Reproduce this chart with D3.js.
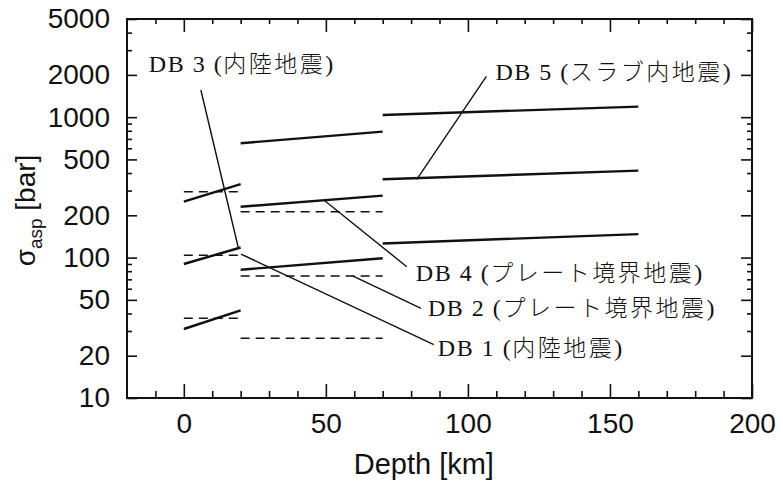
<!DOCTYPE html>
<html>
<head>
<meta charset="utf-8">
<script src="https://cdn.jsdelivr.net/npm/d3@7"></script>
<style>
  body { margin: 0; background: #fff; }
  svg text { fill: #111; }
</style>
</head>
<body>
<div id="chart"></div>
<script>
// depth ranges (km) of the three groups
const shallowDepth = [0, 20];
const midDepth = [20, 70];
const deepDepth = [70, 160];

// sigma_asp [bar] at start / end of each solid line
const shallowSolid = [[250, 334], [90, 118], [31, 42]];
const midSolid = [[652, 789], [230, 276], [82, 99]];
const deepSolid = [[1037, 1188], [361, 416], [126, 147]];

// constant (dashed) levels
const shallowDashed = [294, 104, 37];
const midDashed = [212, 74, 26.6];

// tick values
const xMajor = [0, 50, 100, 150, 200];
const xMinor = d3.range(-10, 200, 10).filter(d => d % 50 !== 0);
const yMajor = [10, 20, 50, 100, 200, 500, 1000, 2000, 5000];
const yMinor = [30, 40, 60, 70, 80, 90, 300, 400, 600, 700, 800, 900, 3000, 4000];

// annotation labels and their leader lines, [depth, sigma] from -> to
const labelNames = ["DB 3 (内陸地震)", "DB 5 (スラブ内地震)", "DB 4 (プレート境界地震)", "DB 2 (プレート境界地震)", "DB 1 (内陸地震)"];
const leaderFrom = [[19.2, 117], [82, 361], [49.4, 256], [59.4, 74], [20.1, 106]];
const leaderTo = [[6, 1560], [106.5, 1950], [78.5, 86], [83.5, 43.5], [88, 24]];

const config = {
  width: 783, height: 488,
  margin: { top: 19, right: 31, bottom: 90, left: 127 }
};
const width = config.width - config.margin.left - config.margin.right;
const height = config.height - config.margin.top - config.margin.bottom;

const svg = d3.select("#chart").append("svg")
  .attr("width", config.width)
  .attr("height", config.height);

const g = svg.append("g")
  .attr("transform", "translate(" + config.margin.left + "," + config.margin.top + ")");

const x = d3.scaleLinear().domain([-20, 200]).range([0, width]);
const y = d3.scaleLog().domain([10, 5000]).range([height, 0]);

const axisFont = "'Liberation Sans', Arial, sans-serif";

// axes: ticks point inward on all four sides
function styleAxis(sel) {
  sel.select(".domain").remove();
  sel.selectAll(".tick line").attr("stroke", "#111").attr("stroke-width", 1.6);
  sel.selectAll("text")
    .style("font-family", axisFont)
    .style("font-size", "28px")
    .attr("fill", "#111");
}

g.append("g").attr("transform", "translate(0," + height + ")")
  .call(d3.axisBottom(x).tickValues(xMajor).tickSize(-14).tickPadding(15).tickFormat(d3.format("d")))
  .call(styleAxis);
g.append("g").attr("transform", "translate(0," + height + ")")
  .call(d3.axisBottom(x).tickValues(xMinor).tickSize(-7).tickFormat(""))
  .call(styleAxis);
g.append("g")
  .call(d3.axisTop(x).tickValues(xMajor).tickSize(-13).tickFormat(""))
  .call(styleAxis);
g.append("g")
  .call(d3.axisTop(x).tickValues(xMinor).tickSize(-5).tickFormat(""))
  .call(styleAxis);

g.append("g")
  .call(d3.axisLeft(y).tickValues(yMajor).tickSize(-10).tickPadding(17).tickFormat(d3.format("d")))
  .call(styleAxis);
g.append("g")
  .call(d3.axisLeft(y).tickValues(yMinor).tickSize(-5).tickFormat(""))
  .call(styleAxis);
g.append("g").attr("transform", "translate(" + width + ",0)")
  .call(d3.axisRight(y).tickValues(yMajor).tickSize(-11).tickFormat(""))
  .call(styleAxis);
g.append("g").attr("transform", "translate(" + width + ",0)")
  .call(d3.axisRight(y).tickValues(yMinor).tickSize(-5).tickFormat(""))
  .call(styleAxis);

// frame
g.append("rect")
  .attr("width", width).attr("height", height)
  .attr("fill", "none").attr("stroke", "#111").attr("stroke-width", 2);

const line = d3.line().x(d => x(d[0])).y(d => y(d[1]));

// solid and dashed lines per depth group
const groups = [
  { depth: shallowDepth, solid: shallowSolid, dashed: shallowDashed },
  { depth: midDepth, solid: midSolid, dashed: midDashed },
  { depth: deepDepth, solid: deepSolid, dashed: [] }
];
groups.forEach(grp => {
  grp.solid.forEach(v => {
    g.append("path")
      .attr("d", line([[grp.depth[0], v[0]], [grp.depth[1], v[1]]]))
      .attr("fill", "none").attr("stroke", "#111").attr("stroke-width", 2.4);
  });
  grp.dashed.forEach(v => {
    g.append("path")
      .attr("d", line([[grp.depth[0], v], [grp.depth[1], v]]))
      .attr("fill", "none").attr("stroke", "#111").attr("stroke-width", 1.5)
      .attr("stroke-dasharray", "9,6");
  });
});

// leader lines
labelNames.forEach((name, i) => {
  g.append("path")
    .attr("d", line([leaderFrom[i], leaderTo[i]]))
    .attr("fill", "none").attr("stroke", "#111").attr("stroke-width", 1.4);
});

// label offsets from the free end of each leader line (px)
const labelOffset = [[-52, -18], [9, 4], [9, 14], [7, 8], [4, 11]];
labelNames.forEach((name, i) => {
  const t = g.append("text")
    .attr("x", x(leaderTo[i][0]) + labelOffset[i][0])
    .attr("y", y(leaderTo[i][1]) + labelOffset[i][1])
    .style("font-family", "'Liberation Serif', 'Times New Roman', 'Noto Sans CJK JP', serif")
    .style("font-size", "24px")
    .style("letter-spacing", "1.5px");
  const m = name.match(/^(DB \d )\((.*)\)$/);
  t.append("tspan").text(m[1] + "(");
  t.append("tspan").style("font-family", "'Noto Sans CJK JP', sans-serif").style("font-size", "23px")
    .style("font-weight", 300).style("letter-spacing", "2.5px").text(m[2]);
  t.append("tspan").text(")");
});

// axis titles
svg.append("text")
  .attr("x", config.margin.left + x(0) + 240)
  .attr("y", 474)
  .attr("text-anchor", "middle")
  .style("font-family", axisFont)
  .style("font-size", "29px")
  .text("Depth [km]");

const yl = svg.append("text")
  .attr("transform", "translate(35," + (config.margin.top + height / 2 + 2) + ") rotate(-90)")
  .attr("text-anchor", "middle")
  .style("font-family", axisFont)
  .style("font-size", "28px");
yl.append("tspan").text("σ");
yl.append("tspan").attr("dy", 7).style("font-size", "19px").text("asp");
yl.append("tspan").attr("dy", -7).text(" [bar]");
</script>
</body>
</html>
